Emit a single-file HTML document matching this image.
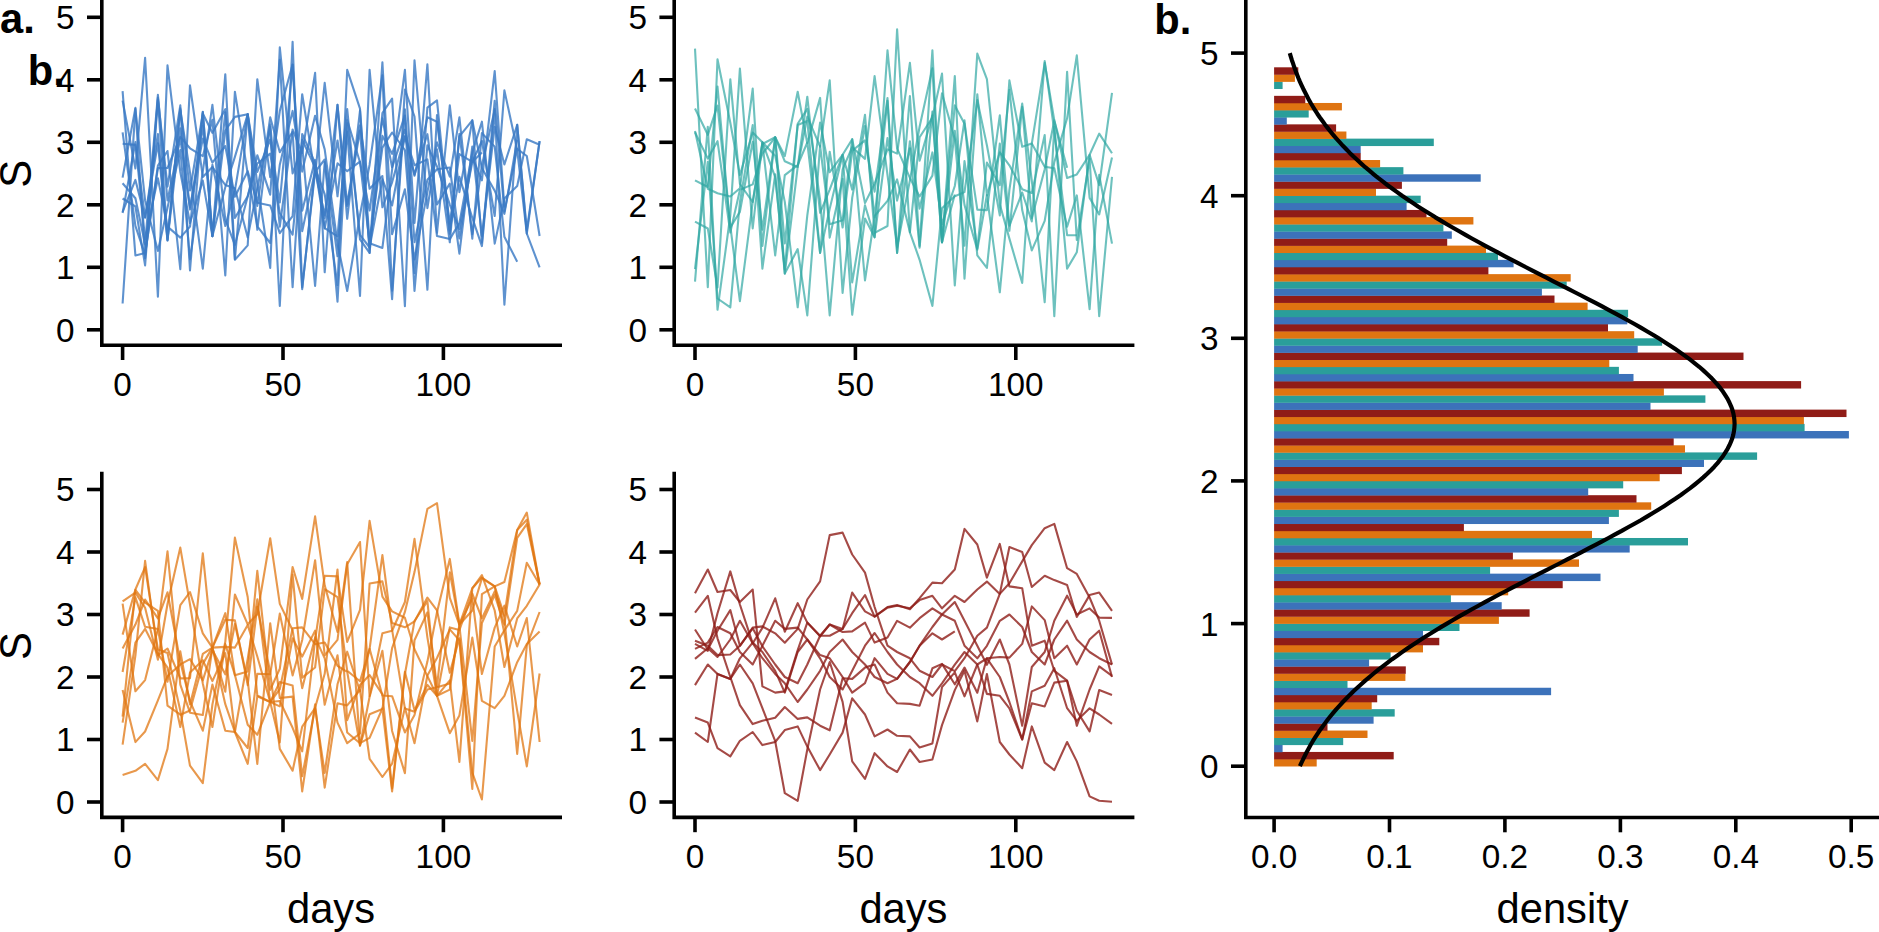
<!DOCTYPE html>
<html lang="en"><head><meta charset="utf-8"><title>Figure</title>
<style>html,body{margin:0;padding:0;background:#fff;}body{width:1879px;height:932px;overflow:hidden;}svg{display:block;}</style>
</head><body>
<svg width="1879" height="932" viewBox="0 0 1879 932" font-family='"Liberation Sans", sans-serif' fill="#000" stroke="none">
<rect width="1879" height="932" fill="#fff"/>
<polyline points="122.6,177.6 135.4,107.9 145.1,258.2 157.9,97.6 167.5,186.6 180.3,105.4 190.0,270.4 202.8,112.0 212.4,236.1 225.3,74.2 234.9,259.2 247.7,114.2 257.3,183.5 270.2,267.9 279.8,47.3 292.6,173.5 302.2,146.4 315.1,286.0 324.7,162.0 337.5,256.3 347.2,120.0 360.0,162.2 369.6,210.5 382.4,118.2 392.1,167.3 404.9,129.7 414.5,175.8 427.4,117.3 437.0,121.7 449.8,223.8 459.4,154.1 472.3,161.9 481.9,141.0 494.7,216.0 504.4,90.4 517.2,149.8 526.8,233.6 539.6,141.1" fill="none" stroke="#3a7ac4" stroke-opacity="0.82" stroke-width="2.1" stroke-linejoin="round"/>
<polyline points="122.6,91.1 135.4,255.4 145.1,253.1 157.9,168.1 167.5,168.0 180.3,136.9 190.0,148.3 202.8,156.2 212.4,119.7 225.3,275.4 234.9,91.7 247.7,173.6 257.3,226.3 270.2,243.0 279.8,164.7 292.6,110.9 302.2,171.6 315.1,115.8 324.7,149.4 337.5,243.3 347.2,291.0 360.0,214.8 369.6,164.7 382.4,75.2 392.1,290.8 404.9,109.3 414.5,242.2 427.4,179.8 437.0,169.2 449.8,167.5 459.4,238.5 472.3,157.4 481.9,180.3 494.7,71.1 504.4,207.5" fill="none" stroke="#3a7ac4" stroke-opacity="0.82" stroke-width="2.1" stroke-linejoin="round"/>
<polyline points="122.6,100.6 135.4,168.5 145.1,57.9 157.9,296.7 167.5,65.4 180.3,172.0 190.0,223.0 202.8,180.6 212.4,236.1 225.3,187.2 234.9,156.9 247.7,114.2 257.3,229.8 270.2,124.2 279.8,226.7 292.6,129.5 302.2,153.0 315.1,72.9 324.7,272.3 337.5,104.8 347.2,204.4 360.0,125.4 369.6,188.8 382.4,176.0 392.1,299.2 404.9,89.5 414.5,116.5 427.4,289.8 437.0,115.0 449.8,233.8 459.4,136.4 472.3,120.4 481.9,242.7 494.7,100.7 504.4,211.6 517.2,148.8 526.8,156.0 539.6,236.0" fill="none" stroke="#3a7ac4" stroke-opacity="0.82" stroke-width="2.1" stroke-linejoin="round"/>
<polyline points="122.6,211.9 135.4,179.9 145.1,217.8 157.9,143.4 167.5,240.4 180.3,128.2 190.0,207.7 202.8,138.5 212.4,162.6 225.3,146.0 234.9,196.8 247.7,171.2 257.3,202.8 270.2,205.5 279.8,233.2 292.6,216.2 302.2,94.2 315.1,175.1 324.7,82.9 337.5,196.3 347.2,109.0 360.0,239.3 369.6,252.9 382.4,62.3 392.1,234.3 404.9,189.3 414.5,259.4 427.4,192.0 437.0,142.4 449.8,176.6 459.4,117.3 472.3,238.6 481.9,133.1 494.7,146.6 504.4,236.7 517.2,261.7" fill="none" stroke="#3a7ac4" stroke-opacity="0.82" stroke-width="2.1" stroke-linejoin="round"/>
<polyline points="122.6,198.5 135.4,206.5 145.1,265.4 157.9,99.8 167.5,239.5 180.3,108.4 190.0,190.5 202.8,113.5 212.4,132.9 225.3,109.2 234.9,218.0 247.7,196.2 257.3,163.5 270.2,153.7 279.8,213.0 292.6,234.7 302.2,139.9 315.1,167.4 324.7,228.1 337.5,236.3 347.2,131.9 360.0,296.0 369.6,69.8 382.4,207.3 392.1,182.3 404.9,136.3 414.5,165.2 427.4,159.4 437.0,236.0 449.8,239.1 459.4,223.1 472.3,152.6 481.9,121.7 494.7,243.6 504.4,198.4 517.2,186.1 526.8,139.2 539.6,144.8" fill="none" stroke="#3a7ac4" stroke-opacity="0.82" stroke-width="2.1" stroke-linejoin="round"/>
<polyline points="122.6,213.0 135.4,142.1 145.1,239.4 157.9,178.3 167.5,226.6 180.3,237.6 190.0,226.6 202.8,111.7 212.4,236.1 225.3,112.3 234.9,259.8 247.7,245.4 257.3,79.2 270.2,177.2 279.8,111.0 292.6,64.6 302.2,210.8 315.1,159.9 324.7,228.4 337.5,163.4 347.2,171.1 360.0,161.6 369.6,243.2 382.4,247.9 392.1,169.6 404.9,69.8 414.5,223.0 427.4,64.2 437.0,232.8 449.8,105.4 459.4,192.1 472.3,120.4 481.9,168.0 494.7,190.7 504.4,213.9 517.2,139.6" fill="none" stroke="#3a7ac4" stroke-opacity="0.82" stroke-width="2.1" stroke-linejoin="round"/>
<polyline points="122.6,143.7 135.4,144.9 145.1,217.3 157.9,134.0 167.5,240.4 180.3,109.9 190.0,172.4 202.8,268.6 212.4,164.8 225.3,226.0 234.9,190.4 247.7,114.2 257.3,205.9 270.2,117.3 279.8,152.3 292.6,131.8 302.2,289.2 315.1,167.8 324.7,194.1 337.5,285.2 347.2,69.8 360.0,108.6 369.6,241.8 382.4,147.6 392.1,132.5 404.9,150.0 414.5,273.1 427.4,107.6 437.0,100.4 449.8,230.6 459.4,176.9 472.3,217.8 481.9,246.1 494.7,109.0 504.4,304.8 517.2,124.8 526.8,233.5 539.6,267.3" fill="none" stroke="#3a7ac4" stroke-opacity="0.82" stroke-width="2.1" stroke-linejoin="round"/>
<polyline points="122.6,183.3 135.4,198.3 145.1,244.1 157.9,94.8 167.5,200.4 180.3,138.4 190.0,209.5 202.8,125.7 212.4,236.1 225.3,130.5 234.9,116.9 247.7,114.2 257.3,171.9 270.2,139.5 279.8,202.4 292.6,64.9 302.2,231.3 315.1,170.6 324.7,215.4 337.5,104.8 347.2,218.8 360.0,110.5 369.6,252.9 382.4,113.0 392.1,98.6 404.9,306.1 414.5,60.4 427.4,208.2 437.0,149.4 449.8,242.3 459.4,133.8 472.3,234.1 481.9,165.2 494.7,110.1" fill="none" stroke="#3a7ac4" stroke-opacity="0.82" stroke-width="2.1" stroke-linejoin="round"/>
<polyline points="122.6,132.4 135.4,225.8 145.1,254.9 157.9,165.6 167.5,151.0 180.3,269.2 190.0,85.4 202.8,176.9 212.4,167.1 225.3,185.0 234.9,188.3 247.7,237.5 257.3,188.2 270.2,126.5 279.8,306.0 292.6,41.7 302.2,287.3 315.1,171.9 324.7,159.5 337.5,301.7 347.2,123.2 360.0,234.8 369.6,247.5 382.4,179.2 392.1,205.5 404.9,136.3 414.5,174.7 427.4,134.2 437.0,204.5 449.8,183.6 459.4,253.6 472.3,146.5 481.9,236.0 494.7,126.7 504.4,164.5 517.2,124.8 526.8,230.4 539.6,141.1" fill="none" stroke="#3a7ac4" stroke-opacity="0.82" stroke-width="2.1" stroke-linejoin="round"/>
<polyline points="122.6,303.5 135.4,108.9 145.1,200.4 157.9,251.0 167.5,207.8 180.3,150.0 190.0,259.1 202.8,171.4 212.4,104.8 225.3,219.4 234.9,245.0 247.7,196.4 257.3,155.2 270.2,194.7 279.8,59.7 292.6,287.3 302.2,134.0 315.1,163.1 324.7,218.1 337.5,140.5 347.2,206.0 360.0,130.6 369.6,247.8 382.4,135.9 392.1,153.8 404.9,115.6 414.5,291.0 427.4,145.4 437.0,166.5 449.8,204.6 459.4,229.0 472.3,162.1 481.9,152.4" fill="none" stroke="#3a7ac4" stroke-opacity="0.82" stroke-width="2.1" stroke-linejoin="round"/>
<path d="M101.8,1.4 V345.2 H560.2" fill="none" stroke="#000" stroke-width="3.6" stroke-linecap="square" stroke-linejoin="miter"/>
<line x1="87.0" x2="101.8" y1="329.8" y2="329.8" stroke="#000" stroke-width="3.6"/>
<text transform="translate(74.6,341.7) scale(1,1.01)" font-size="33.33" text-anchor="end">0</text>
<line x1="87.0" x2="101.8" y1="267.3" y2="267.3" stroke="#000" stroke-width="3.6"/>
<text transform="translate(74.6,279.2) scale(1,1.01)" font-size="33.33" text-anchor="end">1</text>
<line x1="87.0" x2="101.8" y1="204.8" y2="204.8" stroke="#000" stroke-width="3.6"/>
<text transform="translate(74.6,216.7) scale(1,1.01)" font-size="33.33" text-anchor="end">2</text>
<line x1="87.0" x2="101.8" y1="142.3" y2="142.3" stroke="#000" stroke-width="3.6"/>
<text transform="translate(74.6,154.2) scale(1,1.01)" font-size="33.33" text-anchor="end">3</text>
<line x1="87.0" x2="101.8" y1="79.8" y2="79.8" stroke="#000" stroke-width="3.6"/>
<text transform="translate(74.6,91.7) scale(1,1.01)" font-size="33.33" text-anchor="end">4</text>
<line x1="87.0" x2="101.8" y1="17.3" y2="17.3" stroke="#000" stroke-width="3.6"/>
<text transform="translate(74.6,29.2) scale(1,1.01)" font-size="33.33" text-anchor="end">5</text>
<line x1="122.6" x2="122.6" y1="345.2" y2="360.0" stroke="#000" stroke-width="3.6"/>
<text transform="translate(122.6,396.0) scale(1,1.01)" font-size="33.33" text-anchor="middle">0</text>
<line x1="283.0" x2="283.0" y1="345.2" y2="360.0" stroke="#000" stroke-width="3.6"/>
<text transform="translate(283.0,396.0) scale(1,1.01)" font-size="33.33" text-anchor="middle">50</text>
<line x1="443.4" x2="443.4" y1="345.2" y2="360.0" stroke="#000" stroke-width="3.6"/>
<text transform="translate(443.4,396.0) scale(1,1.01)" font-size="33.33" text-anchor="middle">100</text>
<text transform="translate(31.4,173.9) rotate(-90) scale(1,1.08)" font-size="41.67" text-anchor="middle">S</text>
<polyline points="695.0,180.4 707.8,187.0 717.5,86.5 730.3,227.5 739.9,211.9 752.7,141.8 762.4,229.6 775.2,137.3 784.8,273.6 797.7,166.9 807.3,116.6 820.1,146.7 829.7,80.4 842.6,292.9 852.2,197.9 865.0,126.0 874.6,217.4 887.5,100.8 897.1,252.9 909.9,141.2 919.6,208.6 932.4,152.4 942.0,224.2 954.8,186.0 964.5,120.4 977.3,255.4 986.9,267.9 999.8,143.6 1009.4,230.8 1022.2,106.8 1031.8,218.2 1044.7,169.2 1054.3,120.4 1067.1,167.7" fill="none" stroke="#2fa6a2" stroke-opacity="0.7" stroke-width="2.1" stroke-linejoin="round"/>
<polyline points="695.0,108.5 707.8,134.8 717.5,105.7 730.3,225.9 739.9,301.1 752.7,202.1 762.4,144.1 775.2,137.3 784.8,243.4 797.7,125.0 807.3,121.0 820.1,252.9 829.7,151.8 842.6,227.5 852.2,150.8 865.0,140.4 874.6,191.7 887.5,98.0 897.1,252.9 909.9,96.0 919.6,245.9 932.4,50.4 942.0,242.3 954.8,130.7 964.5,204.9 977.3,249.8 986.9,195.0 999.8,292.3 1009.4,189.8 1022.2,103.6 1031.8,180.6 1044.7,302.3 1054.3,126.7 1067.1,268.6 1076.8,252.3 1089.6,154.8 1099.2,133.6 1112.0,153.2" fill="none" stroke="#2fa6a2" stroke-opacity="0.7" stroke-width="2.1" stroke-linejoin="round"/>
<polyline points="695.0,131.0 707.8,188.7 717.5,193.2 730.3,196.5 739.9,188.3 752.7,88.6 762.4,245.9 775.2,137.3 784.8,156.1 797.7,91.7 807.3,143.2 820.1,97.9 829.7,237.6 842.6,178.8 852.2,314.8 865.0,218.5 874.6,237.3 887.5,138.0 897.1,200.6 909.9,148.2 919.6,247.7 932.4,111.6 942.0,242.3 954.8,194.4" fill="none" stroke="#2fa6a2" stroke-opacity="0.7" stroke-width="2.1" stroke-linejoin="round"/>
<polyline points="695.0,132.2 707.8,158.6 717.5,141.2 730.3,232.5 739.9,189.9 752.7,184.4 762.4,153.8 775.2,137.3 784.8,161.3 797.7,167.0 807.3,96.7 820.1,212.8 829.7,189.6 842.6,154.8 852.2,139.2 865.0,280.4 874.6,216.0 887.5,200.9 897.1,179.4 909.9,232.3 919.6,137.2 932.4,117.5 942.0,73.6 954.8,285.4 964.5,161.1 977.3,248.4 986.9,162.6 999.8,185.2 1009.4,89.7 1022.2,210.1 1031.8,250.4 1044.7,220.9 1054.3,162.2 1067.1,118.3 1076.8,55.4 1089.6,197.9 1099.2,214.4 1112.0,157.6" fill="none" stroke="#2fa6a2" stroke-opacity="0.7" stroke-width="2.1" stroke-linejoin="round"/>
<polyline points="695.0,48.6 707.8,287.3 717.5,59.2 730.3,122.7 739.9,175.0 752.7,132.6 762.4,142.3 775.2,177.1 784.8,269.5 797.7,123.8 807.3,108.9 820.1,199.8 829.7,315.4 842.6,169.3 852.2,147.2 865.0,158.9 874.6,76.1 887.5,175.2 897.1,247.3 909.9,180.4 919.6,126.7 932.4,68.2 942.0,242.3 954.8,76.1 964.5,278.6 977.3,94.2 986.9,195.4 999.8,152.3 1009.4,165.3 1022.2,189.3 1031.8,193.0 1044.7,135.0 1054.3,316.1 1067.1,71.7 1076.8,240.0 1089.6,158.7 1099.2,316.1 1112.0,176.9" fill="none" stroke="#2fa6a2" stroke-opacity="0.7" stroke-width="2.1" stroke-linejoin="round"/>
<polyline points="695.0,269.1 707.8,161.7 717.5,298.5 730.3,307.3 739.9,202.2 752.7,125.1 762.4,268.6 775.2,174.3 784.8,273.5 797.7,249.1 807.3,315.4 820.1,145.6 829.7,224.2 842.6,220.2 852.2,139.2 865.0,203.1 874.6,183.6 887.5,149.4 897.1,153.6 909.9,62.9 919.6,160.6 932.4,115.6 942.0,242.3 954.8,105.4 964.5,123.8 977.3,209.6 986.9,210.1 999.8,115.4 1009.4,225.7 1022.2,192.5 1031.8,221.5 1044.7,61.1 1054.3,131.2 1067.1,235.1 1076.8,235.2" fill="none" stroke="#2fa6a2" stroke-opacity="0.7" stroke-width="2.1" stroke-linejoin="round"/>
<polyline points="695.0,221.6 707.8,228.5 717.5,287.5 730.3,79.2 739.9,184.0 752.7,202.0 762.4,142.3 775.2,155.7 784.8,201.9 797.7,307.3 807.3,215.3 820.1,122.6 829.7,172.2 842.6,154.8 852.2,189.6 865.0,114.8 874.6,232.9 887.5,226.0 897.1,29.2 909.9,232.3 919.6,259.8 932.4,306.0 942.0,208.2 954.8,196.2 964.5,192.1 977.3,100.1 986.9,145.2 999.8,215.4 1009.4,80.4 1022.2,146.7 1031.8,143.6 1044.7,166.7 1054.3,168.3 1067.1,226.8 1076.8,195.4 1089.6,309.2 1099.2,174.9 1112.0,243.6" fill="none" stroke="#2fa6a2" stroke-opacity="0.7" stroke-width="2.1" stroke-linejoin="round"/>
<polyline points="695.0,281.7 707.8,126.7 717.5,309.8 730.3,215.5 739.9,68.6 752.7,228.5 762.4,142.3 775.2,255.4 784.8,175.1 797.7,165.1 807.3,142.5 820.1,252.9 829.7,208.9 842.6,154.8 852.2,282.4 865.0,205.2 874.6,237.3 887.5,50.4 897.1,148.4 909.9,177.9 919.6,196.5 932.4,175.6 942.0,93.3 954.8,139.0 964.5,245.7 977.3,53.6 986.9,79.2 999.8,204.2 1009.4,238.6 1022.2,282.9 1031.8,143.6 1044.7,62.8 1054.3,120.4 1067.1,177.9 1076.8,174.4 1089.6,154.8 1099.2,185.1 1112.0,92.9" fill="none" stroke="#2fa6a2" stroke-opacity="0.7" stroke-width="2.1" stroke-linejoin="round"/>
<path d="M674.2,1.4 V345.2 H1132.6" fill="none" stroke="#000" stroke-width="3.6" stroke-linecap="square" stroke-linejoin="miter"/>
<line x1="659.4" x2="674.2" y1="329.8" y2="329.8" stroke="#000" stroke-width="3.6"/>
<text transform="translate(647.0,341.7) scale(1,1.01)" font-size="33.33" text-anchor="end">0</text>
<line x1="659.4" x2="674.2" y1="267.3" y2="267.3" stroke="#000" stroke-width="3.6"/>
<text transform="translate(647.0,279.2) scale(1,1.01)" font-size="33.33" text-anchor="end">1</text>
<line x1="659.4" x2="674.2" y1="204.8" y2="204.8" stroke="#000" stroke-width="3.6"/>
<text transform="translate(647.0,216.7) scale(1,1.01)" font-size="33.33" text-anchor="end">2</text>
<line x1="659.4" x2="674.2" y1="142.3" y2="142.3" stroke="#000" stroke-width="3.6"/>
<text transform="translate(647.0,154.2) scale(1,1.01)" font-size="33.33" text-anchor="end">3</text>
<line x1="659.4" x2="674.2" y1="79.8" y2="79.8" stroke="#000" stroke-width="3.6"/>
<text transform="translate(647.0,91.7) scale(1,1.01)" font-size="33.33" text-anchor="end">4</text>
<line x1="659.4" x2="674.2" y1="17.3" y2="17.3" stroke="#000" stroke-width="3.6"/>
<text transform="translate(647.0,29.2) scale(1,1.01)" font-size="33.33" text-anchor="end">5</text>
<line x1="695.0" x2="695.0" y1="345.2" y2="360.0" stroke="#000" stroke-width="3.6"/>
<text transform="translate(695.0,396.0) scale(1,1.01)" font-size="33.33" text-anchor="middle">0</text>
<line x1="855.4" x2="855.4" y1="345.2" y2="360.0" stroke="#000" stroke-width="3.6"/>
<text transform="translate(855.4,396.0) scale(1,1.01)" font-size="33.33" text-anchor="middle">50</text>
<line x1="1015.8" x2="1015.8" y1="345.2" y2="360.0" stroke="#000" stroke-width="3.6"/>
<text transform="translate(1015.8,396.0) scale(1,1.01)" font-size="33.33" text-anchor="middle">100</text>
<polyline points="122.6,648.5 135.4,624.6 145.1,599.6 157.9,618.3 167.5,592.3 180.3,661.7 190.0,701.1 202.8,730.7 212.4,684.6 225.3,730.8 234.9,732.0 247.7,763.9 257.3,696.4 270.2,702.0 279.8,689.1 292.6,628.3 302.2,627.4 315.1,644.2 324.7,642.5 337.5,665.8 347.2,671.8 360.0,745.7 369.6,696.7 382.4,650.8 392.1,731.0 404.9,773.2 414.5,640.2 427.4,612.4 437.0,686.4 449.8,572.3 459.4,624.5 472.3,598.4 481.9,674.0 494.7,627.6 504.4,605.6 517.2,646.5 526.8,618.0 539.6,742.0" fill="none" stroke="#e07510" stroke-opacity="0.75" stroke-width="2.1" stroke-linejoin="round"/>
<polyline points="122.6,601.4 135.4,592.6 145.1,607.8 157.9,659.8 167.5,604.0 180.3,547.6 190.0,604.5 202.8,683.5 212.4,727.0 225.3,644.1 234.9,675.0 247.7,724.8 257.3,734.8 270.2,702.0 279.8,682.0 292.6,685.4 302.2,776.3 315.1,707.8 324.7,673.8 337.5,569.5 347.2,720.2 360.0,684.9 369.6,675.0 382.4,694.3 392.1,788.4 404.9,671.8 414.5,710.3 427.4,684.9 437.0,695.8 449.8,733.2 459.4,715.4 472.3,637.6 481.9,700.9 494.7,708.2 504.4,695.8 517.2,662.2 526.8,643.9 539.6,631.6" fill="none" stroke="#e07510" stroke-opacity="0.75" stroke-width="2.1" stroke-linejoin="round"/>
<polyline points="122.6,775.1 135.4,770.8 145.1,763.9 157.9,780.1 167.5,748.9 180.3,651.4 190.0,704.4 202.8,653.9 212.4,647.6 225.3,646.9 234.9,647.6 247.7,624.9 257.3,656.5 270.2,702.0 279.8,701.0 292.6,727.8 302.2,751.3 315.1,640.0 324.7,575.8 337.5,576.4 347.2,641.9 360.0,609.9 369.6,520.8 382.4,596.6 392.1,611.4 404.9,617.8 414.5,649.3 427.4,676.1 437.0,695.7 449.8,627.4 459.4,630.1 472.3,593.6 481.9,618.4 494.7,591.4 504.4,617.6 517.2,753.9 526.8,645.6 539.6,612.0" fill="none" stroke="#e07510" stroke-opacity="0.75" stroke-width="2.1" stroke-linejoin="round"/>
<polyline points="122.6,603.7 135.4,691.3 145.1,680.1 157.9,628.9 167.5,551.4 180.3,684.6 190.0,712.7 202.8,715.0 212.4,647.6 225.3,691.8 234.9,594.5 247.7,624.3 257.3,614.2 270.2,538.2 279.8,603.9 292.6,630.2 302.2,688.2 315.1,637.4 324.7,658.4 337.5,722.6 347.2,743.2 360.0,733.5 369.6,583.5 382.4,581.4 392.1,623.1 404.9,627.3 414.5,621.4 427.4,597.6 437.0,610.3 449.8,672.8 459.4,638.3 472.3,772.7 481.9,799.5 494.7,646.5 504.4,630.3 517.2,610.9 526.8,562.8 539.6,584.5" fill="none" stroke="#e07510" stroke-opacity="0.75" stroke-width="2.1" stroke-linejoin="round"/>
<polyline points="122.6,672.0 135.4,597.3 145.1,626.8 157.9,629.0 167.5,681.8 180.3,605.2 190.0,592.0 202.8,633.4 212.4,647.6 225.3,613.2 234.9,675.2 247.7,671.6 257.3,570.8 270.2,689.9 279.8,668.8 292.6,567.0 302.2,598.9 315.1,516.4 324.7,585.4 337.5,632.0 347.2,562.0 360.0,745.4 369.6,714.2 382.4,709.0 392.1,648.2 404.9,611.9 414.5,572.1 427.4,508.9 437.0,503.2 449.8,597.9 459.4,625.0" fill="none" stroke="#e07510" stroke-opacity="0.75" stroke-width="2.1" stroke-linejoin="round"/>
<polyline points="122.6,722.7 135.4,642.6 145.1,628.8 157.9,653.9 167.5,667.7 180.3,727.0 190.0,672.5 202.8,660.2 212.4,681.1 225.3,653.1 234.9,732.0 247.7,748.0 257.3,673.8 270.2,674.3 279.8,613.6 292.6,675.4 302.2,640.0 315.1,560.2 324.7,655.3 337.5,639.9 347.2,564.3 360.0,542.0 369.6,696.1 382.4,633.3 392.1,630.7 404.9,602.0 414.5,538.9 427.4,637.3 437.0,695.8 449.8,680.4 459.4,762.0 472.3,588.2 481.9,577.5 494.7,586.4 504.4,582.0 517.2,530.1 526.8,512.6 539.6,584.5" fill="none" stroke="#e07510" stroke-opacity="0.75" stroke-width="2.1" stroke-linejoin="round"/>
<polyline points="122.6,716.7 135.4,589.9 145.1,602.7 157.9,610.8 167.5,705.7 180.3,714.7 190.0,710.5 202.8,663.9 212.4,647.6 225.3,704.2 234.9,732.0 247.7,658.9 257.3,599.3 270.2,702.0 279.8,742.4 292.6,574.6 302.2,677.6 315.1,667.5 324.7,589.2 337.5,597.2 347.2,670.8 360.0,681.3 369.6,648.8 382.4,555.1 392.1,629.9 404.9,708.4 414.5,711.8 427.4,689.5 437.0,687.3 449.8,683.6 459.4,625.9 472.3,741.0 481.9,623.0 494.7,595.0 504.4,624.6 517.2,537.8 526.8,524.1 539.6,584.5" fill="none" stroke="#e07510" stroke-opacity="0.75" stroke-width="2.1" stroke-linejoin="round"/>
<polyline points="122.6,744.7 135.4,655.6 145.1,560.8 157.9,655.3 167.5,648.5 180.3,678.4 190.0,678.1 202.8,553.3 212.4,647.6 225.3,619.7 234.9,620.4 247.7,685.1 257.3,606.7 270.2,672.3 279.8,748.9 292.6,770.7 302.2,726.6 315.1,708.2 324.7,772.9 337.5,684.3 347.2,651.7 360.0,691.2 369.6,648.8 382.4,695.5 392.1,696.2 404.9,732.4 414.5,715.1 427.4,661.6 437.0,612.3 449.8,558.9 459.4,624.5 472.3,588.3 481.9,575.2 494.7,610.5 504.4,667.0 517.2,618.4 526.8,605.8 539.6,584.5" fill="none" stroke="#e07510" stroke-opacity="0.75" stroke-width="2.1" stroke-linejoin="round"/>
<polyline points="122.6,690.0 135.4,742.1 145.1,731.5 157.9,700.3 167.5,676.2 180.3,664.4 190.0,659.1 202.8,680.4 212.4,650.1 225.3,674.3 234.9,624.0 247.7,680.4 257.3,763.9 270.2,623.2 279.8,698.0 292.6,696.6 302.2,791.4 315.1,704.4 324.7,787.6 337.5,703.2 347.2,705.4 360.0,690.0 369.6,758.8 382.4,777.0 392.1,763.7 404.9,707.7 414.5,743.2 427.4,675.5 437.0,658.0 449.8,629.4 459.4,640.4 472.3,788.9 481.9,594.2 494.7,586.4 504.4,615.5 517.2,530.1 526.8,519.8 539.6,584.5" fill="none" stroke="#e07510" stroke-opacity="0.75" stroke-width="2.1" stroke-linejoin="round"/>
<polyline points="122.6,634.6 135.4,589.5 145.1,567.2 157.9,649.5 167.5,652.9 180.3,710.8 190.0,765.7 202.8,783.2 212.4,704.5 225.3,641.8 234.9,537.6 247.7,597.0 257.3,695.4 270.2,702.0 279.8,706.4 292.6,638.2 302.2,656.6 315.1,630.6 324.7,704.8 337.5,655.2 347.2,732.5 360.0,743.2 369.6,737.8 382.4,708.3 392.1,791.4 404.9,674.3 414.5,621.0 427.4,601.1 437.0,695.8 449.8,689.6 459.4,624.5 472.3,610.5 481.9,578.4 494.7,586.4 504.4,633.4 517.2,710.8 526.8,766.4 539.6,673.5" fill="none" stroke="#e07510" stroke-opacity="0.75" stroke-width="2.1" stroke-linejoin="round"/>
<path d="M101.8,473.6 V817.4 H560.2" fill="none" stroke="#000" stroke-width="3.6" stroke-linecap="square" stroke-linejoin="miter"/>
<line x1="87.0" x2="101.8" y1="802.0" y2="802.0" stroke="#000" stroke-width="3.6"/>
<text transform="translate(74.6,813.9) scale(1,1.01)" font-size="33.33" text-anchor="end">0</text>
<line x1="87.0" x2="101.8" y1="739.5" y2="739.5" stroke="#000" stroke-width="3.6"/>
<text transform="translate(74.6,751.4) scale(1,1.01)" font-size="33.33" text-anchor="end">1</text>
<line x1="87.0" x2="101.8" y1="677.0" y2="677.0" stroke="#000" stroke-width="3.6"/>
<text transform="translate(74.6,688.9) scale(1,1.01)" font-size="33.33" text-anchor="end">2</text>
<line x1="87.0" x2="101.8" y1="614.5" y2="614.5" stroke="#000" stroke-width="3.6"/>
<text transform="translate(74.6,626.4) scale(1,1.01)" font-size="33.33" text-anchor="end">3</text>
<line x1="87.0" x2="101.8" y1="552.0" y2="552.0" stroke="#000" stroke-width="3.6"/>
<text transform="translate(74.6,563.9) scale(1,1.01)" font-size="33.33" text-anchor="end">4</text>
<line x1="87.0" x2="101.8" y1="489.5" y2="489.5" stroke="#000" stroke-width="3.6"/>
<text transform="translate(74.6,501.4) scale(1,1.01)" font-size="33.33" text-anchor="end">5</text>
<line x1="122.6" x2="122.6" y1="817.4" y2="832.2" stroke="#000" stroke-width="3.6"/>
<text transform="translate(122.6,868.2) scale(1,1.01)" font-size="33.33" text-anchor="middle">0</text>
<line x1="283.0" x2="283.0" y1="817.4" y2="832.2" stroke="#000" stroke-width="3.6"/>
<text transform="translate(283.0,868.2) scale(1,1.01)" font-size="33.33" text-anchor="middle">50</text>
<line x1="443.4" x2="443.4" y1="817.4" y2="832.2" stroke="#000" stroke-width="3.6"/>
<text transform="translate(443.4,868.2) scale(1,1.01)" font-size="33.33" text-anchor="middle">100</text>
<text transform="translate(31.4,646.1) rotate(-90) scale(1,1.08)" font-size="41.67" text-anchor="middle">S</text>
<text x="331.0" y="922.5" font-size="41.67" text-anchor="middle">days</text>
<polyline points="695.0,593.2 707.8,569.5 717.5,592.0 730.3,590.0 739.9,602.0 752.7,589.5 762.4,686.4 775.2,692.6 784.8,691.4 797.7,650.1 807.3,622.6 820.1,635.8 829.7,624.5 842.6,628.9 852.2,613.2 865.0,595.0 874.6,616.6 887.5,607.0 897.1,605.1 909.9,609.3 919.6,598.2 932.4,582.6 942.0,583.3 954.8,569.5 964.5,528.9 977.3,544.5 986.9,577.6 999.8,543.9 1009.4,586.4 1022.2,588.2 1031.8,645.7 1044.7,640.7 1054.3,670.8 1067.1,680.7 1076.8,725.8 1089.6,689.5 1099.2,666.4 1112.0,675.8" fill="none" stroke="#8f1d18" stroke-opacity="0.8" stroke-width="2.1" stroke-linejoin="round"/>
<polyline points="695.0,612.6 707.8,595.8 717.5,638.3 730.3,677.0 739.9,705.1 752.7,724.1 762.4,720.7 775.2,717.7 784.8,707.0 797.7,718.9 807.3,717.4 820.1,725.7 829.7,730.3 842.6,678.2 852.2,678.9 865.0,667.6 874.6,664.5 887.5,692.6 897.1,703.3 909.9,703.9 919.6,705.7 932.4,668.3 942.0,663.9 954.8,684.3 964.5,667.6 977.3,692.7 986.9,658.3 999.8,657.0 1009.4,657.6 1022.2,643.9 1031.8,606.4 1044.7,620.1 1054.3,658.2 1067.1,645.7 1076.8,664.5 1089.6,639.5 1099.2,630.7 1112.0,677.0" fill="none" stroke="#8f1d18" stroke-opacity="0.8" stroke-width="2.1" stroke-linejoin="round"/>
<polyline points="695.0,643.9 707.8,650.8 717.5,613.3 730.3,571.4 739.9,604.5 752.7,643.3 762.4,627.9 775.2,598.3 784.8,631.7 797.7,603.2 807.3,622.6 820.1,636.4 829.7,624.5 842.6,632.0 852.2,631.4 865.0,622.6 874.6,642.6 887.5,637.6 897.1,620.8 909.9,627.7 919.6,618.2 932.4,608.3 942.0,614.5 954.8,620.8 964.5,645.7 977.3,658.3 986.9,645.8 999.8,620.8 1009.4,614.5 1022.2,627.0 1031.8,652.0 1044.7,664.5 1054.3,639.5 1067.1,620.7 1076.8,639.5 1089.6,652.0 1099.2,658.2 1112.0,664.5" fill="none" stroke="#8f1d18" stroke-opacity="0.8" stroke-width="2.1" stroke-linejoin="round"/>
<polyline points="695.0,629.5 707.8,649.5 717.5,630.8 730.3,610.1 739.9,645.8 752.7,627.6 762.4,626.4 775.2,633.3 784.8,642.7 797.7,628.9 807.3,599.5 820.1,581.4 829.7,535.1 842.6,532.6 852.2,554.5 865.0,572.6 874.6,607.0 887.5,645.7 897.1,652.0 909.9,658.3 919.6,670.7 932.4,677.0 942.0,664.5 954.8,671.1 964.5,658.2 977.3,635.8 986.9,627.6 999.8,593.9 1009.4,583.3 1022.2,561.4 1031.8,545.1 1044.7,528.2 1054.3,523.9 1067.1,568.2 1076.8,573.9 1089.6,597.5 1099.2,620.7 1112.0,664.5" fill="none" stroke="#8f1d18" stroke-opacity="0.8" stroke-width="2.1" stroke-linejoin="round"/>
<polyline points="695.0,717.6 707.8,722.6 717.5,748.2 730.3,756.4 739.9,740.8 752.7,732.0 762.4,745.1 775.2,742.0 784.8,730.1 797.7,726.4 807.3,746.6 820.1,770.1 829.7,754.5 842.6,732.6 852.2,698.3 865.0,714.5 874.6,736.4 887.5,729.5 897.1,735.8 909.9,736.4 919.6,747.5 932.4,743.4 942.0,687.1 954.8,672.4 964.5,696.4 977.3,664.5 986.9,658.3 999.8,677.0 1009.4,702.0 1022.2,739.5 1031.8,691.4 1044.7,685.7 1054.3,668.2 1067.1,708.2 1076.8,720.8 1089.6,708.3 1099.2,714.5 1112.0,723.9" fill="none" stroke="#8f1d18" stroke-opacity="0.8" stroke-width="2.1" stroke-linejoin="round"/>
<polyline points="695.0,685.1 707.8,664.5 717.5,673.9 730.3,678.9 739.9,664.5 752.7,683.3 762.4,708.2 775.2,741.2 784.8,793.2 797.7,800.8 807.3,749.5 820.1,689.5 829.7,662.0 842.6,701.9 852.2,761.4 865.0,778.9 874.6,753.2 887.5,766.4 897.1,772.0 909.9,749.5 919.6,762.0 932.4,759.5 942.0,725.1 954.8,690.1 964.5,670.7 977.3,721.4 986.9,674.0 999.8,742.0 1009.4,754.5 1022.2,768.2 1031.8,726.4 1044.7,762.6 1054.3,770.1 1067.1,742.0 1076.8,761.4 1089.6,796.4 1099.2,800.8 1112.0,801.7" fill="none" stroke="#8f1d18" stroke-opacity="0.8" stroke-width="2.1" stroke-linejoin="round"/>
<polyline points="695.0,732.6 707.8,742.0 717.5,673.9 730.3,678.9 739.9,658.3 752.7,642.6 762.4,652.0 775.2,670.8 784.8,692.6 797.7,652.0 807.3,639.5 820.1,655.1 829.7,658.3 842.6,677.0 852.2,692.6 865.0,683.2 874.6,658.2 887.5,673.9 897.1,678.9 909.9,662.0 919.6,645.7 932.4,633.3 942.0,639.5 954.8,631.4" fill="none" stroke="#8f1d18" stroke-opacity="0.8" stroke-width="2.1" stroke-linejoin="round"/>
<polyline points="695.0,640.8 707.8,645.8 717.5,655.1 730.3,654.5 739.9,645.8 752.7,628.3 762.4,646.3 775.2,664.5 784.8,677.0 797.7,683.2 807.3,664.5 820.1,635.8 829.7,635.8 842.6,628.9 852.2,592.6 865.0,611.3 874.6,616.6 887.5,607.6 897.1,605.7 909.9,608.2 919.6,600.1 932.4,595.8 942.0,608.3 954.8,595.8 964.5,602.0 977.3,589.5 986.9,581.6 999.8,593.9 1009.4,547.0 1022.2,552.0 1031.8,587.0 1044.7,575.7 1054.3,580.1 1067.1,585.0 1076.8,617.0 1089.6,595.1 1099.2,592.6 1112.0,610.8" fill="none" stroke="#8f1d18" stroke-opacity="0.8" stroke-width="2.1" stroke-linejoin="round"/>
<polyline points="695.0,658.9 707.8,648.2 717.5,657.0 730.3,639.5 739.9,620.8 752.7,643.3 762.4,658.2 775.2,673.9 784.8,683.3 797.7,702.0 807.3,689.5 820.1,670.8 829.7,652.0 842.6,639.5 852.2,652.0 865.0,664.5 874.6,677.0 887.5,683.2 897.1,678.9 909.9,662.0 919.6,645.7 932.4,627.0 942.0,614.5 954.8,602.0 964.5,620.7 977.3,645.8 986.9,664.8 999.8,639.5 1009.4,664.5 1022.2,725.8 1031.8,667.0 1044.7,652.0 1054.3,620.8 1067.1,595.7 1076.8,614.5 1089.6,608.4 1099.2,617.6 1112.0,617.9" fill="none" stroke="#8f1d18" stroke-opacity="0.8" stroke-width="2.1" stroke-linejoin="round"/>
<polyline points="695.0,648.9 707.8,642.6 717.5,627.0 730.3,633.2 739.9,652.0 752.7,664.5 762.4,645.7 775.2,620.8 784.8,628.9 797.7,627.6 807.3,639.5 820.1,658.3 829.7,677.0 842.6,689.5 852.2,670.8 865.0,645.7 874.6,633.0 887.5,652.0 897.1,664.5 909.9,677.0 919.6,683.2 932.4,695.8 942.0,683.3 954.8,664.6 964.5,652.0 977.3,664.5 986.9,693.9 999.8,695.8 1009.4,708.3 1022.2,739.5 1031.8,703.2 1044.7,706.4 1054.3,682.6 1067.1,680.7 1076.8,710.8 1089.6,731.4 1099.2,690.1 1112.0,695.1" fill="none" stroke="#8f1d18" stroke-opacity="0.8" stroke-width="2.1" stroke-linejoin="round"/>
<path d="M674.2,473.6 V817.4 H1132.6" fill="none" stroke="#000" stroke-width="3.6" stroke-linecap="square" stroke-linejoin="miter"/>
<line x1="659.4" x2="674.2" y1="802.0" y2="802.0" stroke="#000" stroke-width="3.6"/>
<text transform="translate(647.0,813.9) scale(1,1.01)" font-size="33.33" text-anchor="end">0</text>
<line x1="659.4" x2="674.2" y1="739.5" y2="739.5" stroke="#000" stroke-width="3.6"/>
<text transform="translate(647.0,751.4) scale(1,1.01)" font-size="33.33" text-anchor="end">1</text>
<line x1="659.4" x2="674.2" y1="677.0" y2="677.0" stroke="#000" stroke-width="3.6"/>
<text transform="translate(647.0,688.9) scale(1,1.01)" font-size="33.33" text-anchor="end">2</text>
<line x1="659.4" x2="674.2" y1="614.5" y2="614.5" stroke="#000" stroke-width="3.6"/>
<text transform="translate(647.0,626.4) scale(1,1.01)" font-size="33.33" text-anchor="end">3</text>
<line x1="659.4" x2="674.2" y1="552.0" y2="552.0" stroke="#000" stroke-width="3.6"/>
<text transform="translate(647.0,563.9) scale(1,1.01)" font-size="33.33" text-anchor="end">4</text>
<line x1="659.4" x2="674.2" y1="489.5" y2="489.5" stroke="#000" stroke-width="3.6"/>
<text transform="translate(647.0,501.4) scale(1,1.01)" font-size="33.33" text-anchor="end">5</text>
<line x1="695.0" x2="695.0" y1="817.4" y2="832.2" stroke="#000" stroke-width="3.6"/>
<text transform="translate(695.0,868.2) scale(1,1.01)" font-size="33.33" text-anchor="middle">0</text>
<line x1="855.4" x2="855.4" y1="817.4" y2="832.2" stroke="#000" stroke-width="3.6"/>
<text transform="translate(855.4,868.2) scale(1,1.01)" font-size="33.33" text-anchor="middle">50</text>
<line x1="1015.8" x2="1015.8" y1="817.4" y2="832.2" stroke="#000" stroke-width="3.6"/>
<text transform="translate(1015.8,868.2) scale(1,1.01)" font-size="33.33" text-anchor="middle">100</text>
<text x="903.4" y="922.5" font-size="41.67" text-anchor="middle">days</text>
<g>
<rect x="1274.1" y="759.07" width="42.6" height="7.43" fill="#df7411"/>
<rect x="1274.1" y="751.94" width="119.6" height="7.43" fill="#901c17"/>
<rect x="1274.1" y="744.81" width="8.5" height="7.43" fill="#3c72ba"/>
<rect x="1274.1" y="737.67" width="69.1" height="7.43" fill="#2a9e9a"/>
<rect x="1274.1" y="730.54" width="93.4" height="7.43" fill="#df7411"/>
<rect x="1274.1" y="723.41" width="53.4" height="7.43" fill="#901c17"/>
<rect x="1274.1" y="716.28" width="99.5" height="7.43" fill="#3c72ba"/>
<rect x="1274.1" y="709.15" width="120.6" height="7.43" fill="#2a9e9a"/>
<rect x="1274.1" y="702.02" width="97.6" height="7.43" fill="#df7411"/>
<rect x="1274.1" y="694.88" width="103.1" height="7.43" fill="#901c17"/>
<rect x="1274.1" y="687.75" width="277.0" height="7.43" fill="#3c72ba"/>
<rect x="1274.1" y="680.62" width="73.4" height="7.43" fill="#2a9e9a"/>
<rect x="1274.1" y="673.49" width="131.3" height="7.43" fill="#df7411"/>
<rect x="1274.1" y="666.36" width="131.7" height="7.43" fill="#901c17"/>
<rect x="1274.1" y="659.23" width="95.0" height="7.43" fill="#3c72ba"/>
<rect x="1274.1" y="652.10" width="116.5" height="7.43" fill="#2a9e9a"/>
<rect x="1274.1" y="644.96" width="148.9" height="7.43" fill="#df7411"/>
<rect x="1274.1" y="637.83" width="165.2" height="7.43" fill="#901c17"/>
<rect x="1274.1" y="630.70" width="148.9" height="7.43" fill="#3c72ba"/>
<rect x="1274.1" y="623.57" width="185.4" height="7.43" fill="#2a9e9a"/>
<rect x="1274.1" y="616.44" width="224.8" height="7.43" fill="#df7411"/>
<rect x="1274.1" y="609.31" width="255.5" height="7.43" fill="#901c17"/>
<rect x="1274.1" y="602.18" width="227.6" height="7.43" fill="#3c72ba"/>
<rect x="1274.1" y="595.04" width="176.8" height="7.43" fill="#2a9e9a"/>
<rect x="1274.1" y="587.91" width="234.1" height="7.43" fill="#df7411"/>
<rect x="1274.1" y="580.78" width="288.6" height="7.43" fill="#901c17"/>
<rect x="1274.1" y="573.65" width="326.4" height="7.43" fill="#3c72ba"/>
<rect x="1274.1" y="566.52" width="216.0" height="7.43" fill="#2a9e9a"/>
<rect x="1274.1" y="559.39" width="304.9" height="7.43" fill="#df7411"/>
<rect x="1274.1" y="552.26" width="238.8" height="7.43" fill="#901c17"/>
<rect x="1274.1" y="545.12" width="355.6" height="7.43" fill="#3c72ba"/>
<rect x="1274.1" y="537.99" width="413.9" height="7.43" fill="#2a9e9a"/>
<rect x="1274.1" y="530.86" width="317.9" height="7.43" fill="#df7411"/>
<rect x="1274.1" y="523.73" width="189.8" height="7.43" fill="#901c17"/>
<rect x="1274.1" y="516.60" width="334.8" height="7.43" fill="#3c72ba"/>
<rect x="1274.1" y="509.47" width="344.8" height="7.43" fill="#2a9e9a"/>
<rect x="1274.1" y="502.33" width="377.1" height="7.43" fill="#df7411"/>
<rect x="1274.1" y="495.20" width="362.4" height="7.43" fill="#901c17"/>
<rect x="1274.1" y="488.07" width="314.1" height="7.43" fill="#3c72ba"/>
<rect x="1274.1" y="480.94" width="349.1" height="7.43" fill="#2a9e9a"/>
<rect x="1274.1" y="473.81" width="385.6" height="7.43" fill="#df7411"/>
<rect x="1274.1" y="466.68" width="407.8" height="7.43" fill="#901c17"/>
<rect x="1274.1" y="459.55" width="429.9" height="7.43" fill="#3c72ba"/>
<rect x="1274.1" y="452.41" width="483.0" height="7.43" fill="#2a9e9a"/>
<rect x="1274.1" y="445.28" width="410.9" height="7.43" fill="#df7411"/>
<rect x="1274.1" y="438.15" width="399.6" height="7.43" fill="#901c17"/>
<rect x="1274.1" y="431.02" width="574.8" height="7.43" fill="#3c72ba"/>
<rect x="1274.1" y="423.89" width="530.5" height="7.43" fill="#2a9e9a"/>
<rect x="1274.1" y="416.76" width="529.8" height="7.43" fill="#df7411"/>
<rect x="1274.1" y="409.62" width="572.4" height="7.43" fill="#901c17"/>
<rect x="1274.1" y="402.49" width="376.4" height="7.43" fill="#3c72ba"/>
<rect x="1274.1" y="395.36" width="431.3" height="7.43" fill="#2a9e9a"/>
<rect x="1274.1" y="388.23" width="389.8" height="7.43" fill="#df7411"/>
<rect x="1274.1" y="381.10" width="527.0" height="7.43" fill="#901c17"/>
<rect x="1274.1" y="373.97" width="359.4" height="7.43" fill="#3c72ba"/>
<rect x="1274.1" y="366.84" width="344.8" height="7.43" fill="#2a9e9a"/>
<rect x="1274.1" y="359.70" width="335.2" height="7.43" fill="#df7411"/>
<rect x="1274.1" y="352.57" width="469.4" height="7.43" fill="#901c17"/>
<rect x="1274.1" y="345.44" width="363.6" height="7.43" fill="#3c72ba"/>
<rect x="1274.1" y="338.31" width="388.0" height="7.43" fill="#2a9e9a"/>
<rect x="1274.1" y="331.18" width="360.1" height="7.43" fill="#df7411"/>
<rect x="1274.1" y="324.05" width="333.9" height="7.43" fill="#901c17"/>
<rect x="1274.1" y="316.92" width="353.2" height="7.43" fill="#3c72ba"/>
<rect x="1274.1" y="309.78" width="354.0" height="7.43" fill="#2a9e9a"/>
<rect x="1274.1" y="302.65" width="313.5" height="7.43" fill="#df7411"/>
<rect x="1274.1" y="295.52" width="280.4" height="7.43" fill="#901c17"/>
<rect x="1274.1" y="288.39" width="267.8" height="7.43" fill="#3c72ba"/>
<rect x="1274.1" y="281.26" width="292.6" height="7.43" fill="#2a9e9a"/>
<rect x="1274.1" y="274.13" width="296.6" height="7.43" fill="#df7411"/>
<rect x="1274.1" y="267.00" width="214.3" height="7.43" fill="#901c17"/>
<rect x="1274.1" y="259.86" width="239.5" height="7.43" fill="#3c72ba"/>
<rect x="1274.1" y="252.73" width="223.9" height="7.43" fill="#2a9e9a"/>
<rect x="1274.1" y="245.60" width="211.9" height="7.43" fill="#df7411"/>
<rect x="1274.1" y="238.47" width="173.1" height="7.43" fill="#901c17"/>
<rect x="1274.1" y="231.34" width="177.7" height="7.43" fill="#3c72ba"/>
<rect x="1274.1" y="224.21" width="169.3" height="7.43" fill="#2a9e9a"/>
<rect x="1274.1" y="217.07" width="199.3" height="7.43" fill="#df7411"/>
<rect x="1274.1" y="209.94" width="152.4" height="7.43" fill="#901c17"/>
<rect x="1274.1" y="202.81" width="132.5" height="7.43" fill="#3c72ba"/>
<rect x="1274.1" y="195.68" width="146.6" height="7.43" fill="#2a9e9a"/>
<rect x="1274.1" y="188.55" width="101.9" height="7.43" fill="#df7411"/>
<rect x="1274.1" y="181.42" width="127.8" height="7.43" fill="#901c17"/>
<rect x="1274.1" y="174.29" width="206.6" height="7.43" fill="#3c72ba"/>
<rect x="1274.1" y="167.15" width="129.3" height="7.43" fill="#2a9e9a"/>
<rect x="1274.1" y="160.02" width="106.0" height="7.43" fill="#df7411"/>
<rect x="1274.1" y="152.89" width="86.6" height="7.43" fill="#901c17"/>
<rect x="1274.1" y="145.76" width="86.6" height="7.43" fill="#3c72ba"/>
<rect x="1274.1" y="138.63" width="159.7" height="7.43" fill="#2a9e9a"/>
<rect x="1274.1" y="131.50" width="72.3" height="7.43" fill="#df7411"/>
<rect x="1274.1" y="124.36" width="62.0" height="7.43" fill="#901c17"/>
<rect x="1274.1" y="117.23" width="12.7" height="7.43" fill="#3c72ba"/>
<rect x="1274.1" y="110.10" width="34.6" height="7.43" fill="#2a9e9a"/>
<rect x="1274.1" y="102.97" width="67.8" height="7.43" fill="#df7411"/>
<rect x="1274.1" y="95.84" width="31.2" height="7.43" fill="#901c17"/>
<rect x="1274.1" y="81.58" width="8.5" height="7.43" fill="#2a9e9a"/>
<rect x="1274.1" y="74.44" width="20.8" height="7.43" fill="#df7411"/>
<rect x="1274.1" y="67.31" width="24.2" height="7.43" fill="#901c17"/>
</g>
<polyline points="1299.9,766.2 1301.5,762.6 1303.2,759.1 1305.0,755.5 1306.8,751.9 1308.7,748.4 1310.7,744.8 1312.8,741.2 1315.0,737.7 1317.3,734.1 1319.7,730.5 1322.3,727.0 1324.9,723.4 1327.6,719.8 1330.4,716.3 1333.4,712.7 1336.4,709.1 1339.6,705.6 1342.9,702.0 1346.3,698.5 1349.8,694.9 1353.5,691.3 1357.3,687.8 1361.2,684.2 1365.2,680.6 1369.4,677.1 1373.7,673.5 1378.1,669.9 1382.7,666.4 1387.3,662.8 1392.1,659.2 1397.1,655.7 1402.1,652.1 1407.3,648.5 1412.6,645.0 1418.0,641.4 1423.6,637.8 1429.3,634.3 1435.0,630.7 1440.9,627.1 1446.9,623.6 1453.0,620.0 1459.2,616.4 1465.5,612.9 1471.9,609.3 1478.4,605.7 1484.9,602.2 1491.5,598.6 1498.2,595.0 1505.0,591.5 1511.8,587.9 1518.6,584.3 1525.5,580.8 1532.5,577.2 1539.4,573.6 1546.4,570.1 1553.4,566.5 1560.4,563.0 1567.3,559.4 1574.3,555.8 1581.2,552.3 1588.1,548.7 1595.0,545.1 1601.7,541.6 1608.5,538.0 1615.1,534.4 1621.7,530.9 1628.1,527.3 1634.5,523.7 1640.8,520.2 1646.9,516.6 1652.9,513.0 1658.7,509.5 1664.4,505.9 1669.9,502.3 1675.3,498.8 1680.5,495.2 1685.4,491.6 1690.2,488.1 1694.8,484.5 1699.2,480.9 1703.3,477.4 1707.2,473.8 1710.9,470.2 1714.3,466.7 1717.5,463.1 1720.4,459.5 1723.1,456.0 1725.4,452.4 1727.6,448.8 1729.4,445.3 1731.0,441.7 1732.3,438.2 1733.3,434.6 1734.0,431.0 1734.4,427.5 1734.6,423.9 1734.4,420.3 1734.0,416.8 1733.3,413.2 1732.3,409.6 1731.0,406.1 1729.4,402.5 1727.6,398.9 1725.4,395.4 1723.1,391.8 1720.4,388.2 1717.5,384.7 1714.3,381.1 1710.9,377.5 1707.2,374.0 1703.3,370.4 1699.2,366.8 1694.8,363.3 1690.2,359.7 1685.4,356.1 1680.5,352.6 1675.3,349.0 1669.9,345.4 1664.4,341.9 1658.7,338.3 1652.9,334.7 1646.9,331.2 1640.8,327.6 1634.5,324.0 1628.1,320.5 1621.7,316.9 1615.1,313.3 1608.5,309.8 1601.7,306.2 1595.0,302.7 1588.1,299.1 1581.2,295.5 1574.3,292.0 1567.3,288.4 1560.4,284.8 1553.4,281.3 1546.4,277.7 1539.4,274.1 1532.5,270.6 1525.5,267.0 1518.6,263.4 1511.8,259.9 1505.0,256.3 1498.2,252.7 1491.5,249.2 1484.9,245.6 1478.4,242.0 1471.9,238.5 1465.5,234.9 1459.2,231.3 1453.0,227.8 1446.9,224.2 1440.9,220.6 1435.0,217.1 1429.3,213.5 1423.6,209.9 1418.0,206.4 1412.6,202.8 1407.3,199.2 1402.1,195.7 1397.1,192.1 1392.1,188.5 1387.3,185.0 1382.7,181.4 1378.1,177.9 1373.7,174.3 1369.4,170.7 1365.2,167.2 1361.2,163.6 1357.3,160.0 1353.5,156.5 1349.8,152.9 1346.3,149.3 1342.9,145.8 1339.6,142.2 1336.4,138.6 1333.4,135.1 1330.4,131.5 1327.6,127.9 1324.9,124.4 1322.3,120.8 1319.7,117.2 1317.3,113.7 1315.0,110.1 1312.8,106.5 1310.7,103.0 1308.7,99.4 1306.8,95.8 1305.0,92.3 1303.2,88.7 1301.5,85.1 1299.9,81.6 1298.4,78.0 1297.0,74.4 1295.6,70.9 1294.3,67.3 1293.1,63.7 1291.9,60.2 1290.8,56.6 1289.8,53.1" fill="none" stroke="#000" stroke-width="4.17" stroke-linejoin="round"/>
<path d="M1245.8,0 V817.5 H1884" fill="none" stroke="#000" stroke-width="3.6" stroke-linecap="square"/>
<line x1="1231.0" x2="1245.8" y1="766.2" y2="766.2" stroke="#000" stroke-width="3.6"/>
<text transform="translate(1218.6,778.1) scale(1,1.01)" font-size="33.33" text-anchor="end">0</text>
<line x1="1231.0" x2="1245.8" y1="623.6" y2="623.6" stroke="#000" stroke-width="3.6"/>
<text transform="translate(1218.6,635.5) scale(1,1.01)" font-size="33.33" text-anchor="end">1</text>
<line x1="1231.0" x2="1245.8" y1="480.9" y2="480.9" stroke="#000" stroke-width="3.6"/>
<text transform="translate(1218.6,492.8) scale(1,1.01)" font-size="33.33" text-anchor="end">2</text>
<line x1="1231.0" x2="1245.8" y1="338.3" y2="338.3" stroke="#000" stroke-width="3.6"/>
<text transform="translate(1218.6,350.2) scale(1,1.01)" font-size="33.33" text-anchor="end">3</text>
<line x1="1231.0" x2="1245.8" y1="195.7" y2="195.7" stroke="#000" stroke-width="3.6"/>
<text transform="translate(1218.6,207.6) scale(1,1.01)" font-size="33.33" text-anchor="end">4</text>
<line x1="1231.0" x2="1245.8" y1="53.1" y2="53.1" stroke="#000" stroke-width="3.6"/>
<text transform="translate(1218.6,65.0) scale(1,1.01)" font-size="33.33" text-anchor="end">5</text>
<line x1="1274.1" x2="1274.1" y1="817.5" y2="832.3" stroke="#000" stroke-width="3.6"/>
<text transform="translate(1274.1,868.2) scale(1,1.01)" font-size="33.33" text-anchor="middle">0.0</text>
<line x1="1389.5" x2="1389.5" y1="817.5" y2="832.3" stroke="#000" stroke-width="3.6"/>
<text transform="translate(1389.5,868.2) scale(1,1.01)" font-size="33.33" text-anchor="middle">0.1</text>
<line x1="1504.9" x2="1504.9" y1="817.5" y2="832.3" stroke="#000" stroke-width="3.6"/>
<text transform="translate(1504.9,868.2) scale(1,1.01)" font-size="33.33" text-anchor="middle">0.2</text>
<line x1="1620.4" x2="1620.4" y1="817.5" y2="832.3" stroke="#000" stroke-width="3.6"/>
<text transform="translate(1620.4,868.2) scale(1,1.01)" font-size="33.33" text-anchor="middle">0.3</text>
<line x1="1735.8" x2="1735.8" y1="817.5" y2="832.3" stroke="#000" stroke-width="3.6"/>
<text transform="translate(1735.8,868.2) scale(1,1.01)" font-size="33.33" text-anchor="middle">0.4</text>
<line x1="1851.2" x2="1851.2" y1="817.5" y2="832.3" stroke="#000" stroke-width="3.6"/>
<text transform="translate(1851.2,868.2) scale(1,1.01)" font-size="33.33" text-anchor="middle">0.5</text>
<text x="1562.6" y="922.5" font-size="41.67" text-anchor="middle">density</text>
<text x="0.1" y="33.3" font-size="41.67" font-weight="bold">a.</text>
<text x="27.85" y="85.3" font-size="41.67" font-weight="bold">b.</text>
<text x="1154.2" y="33.9" font-size="41.67" font-weight="bold">b.</text>
</svg>
</body></html>
